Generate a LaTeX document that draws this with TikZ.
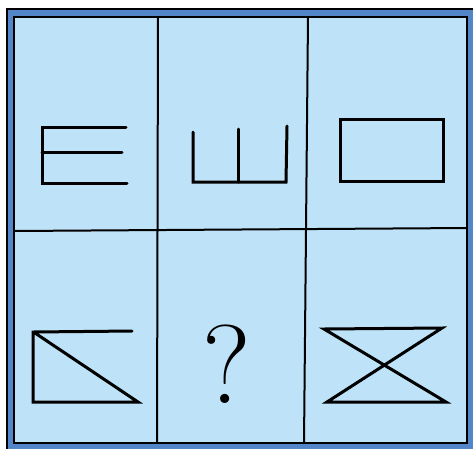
\documentclass[tikz,border=0pt]{standalone}
\begin{document}
\begin{tikzpicture}[x=1pt,y=-1pt,
  fig/.style={line width=3pt,line cap=round,line join=miter},
  grid/.style={line width=2pt},
  frame/.style={line width=2.4pt}]
\definecolor{lightfill}{RGB}{190,227,248}
\definecolor{band}{RGB}{82,134,200}
\useasboundingbox (0,0) rectangle (473,448);
\fill[white] (0,0) rectangle (473,448);
% outer blue band
\fill[band] (7,9) rectangle (476,451);
\draw[frame] (7,451) -- (7,9) -- (476,9);
% inner panel
\filldraw[fill=lightfill,frame] (14,17) rectangle (467,443);
% grid
\draw[grid] (158,17) -- (157,443);
\draw[grid] (308,17) -- (304,443);
\draw[grid] (14,231) -- (467,228);
% cell 1: E
\draw[fig] (126,127) -- (42,127) -- (42,183) -- (127,183);
\draw[fig] (42,152) -- (122,152);
% cell 2: Sha
\draw[fig] (193,132) -- (193,182) -- (286,182) -- (287,126);
\draw[fig] (238,129) -- (238,182);
% cell 3: rectangle
\draw[fig] (340,119) rectangle (443,181);
% cell 4
\draw[fig] (132,331) -- (33,332) -- (33,402) -- (138,402) -- (35,333);
% cell 5: question mark
\node[inner sep=0pt,font=\fontsize{112}{112}\selectfont] (q) at (227,364) {?};
% cell 6
\draw[fig] (324,329) -- (442,328) -- (327,402) -- (446,402) -- cycle;
\end{tikzpicture}
\end{document}
